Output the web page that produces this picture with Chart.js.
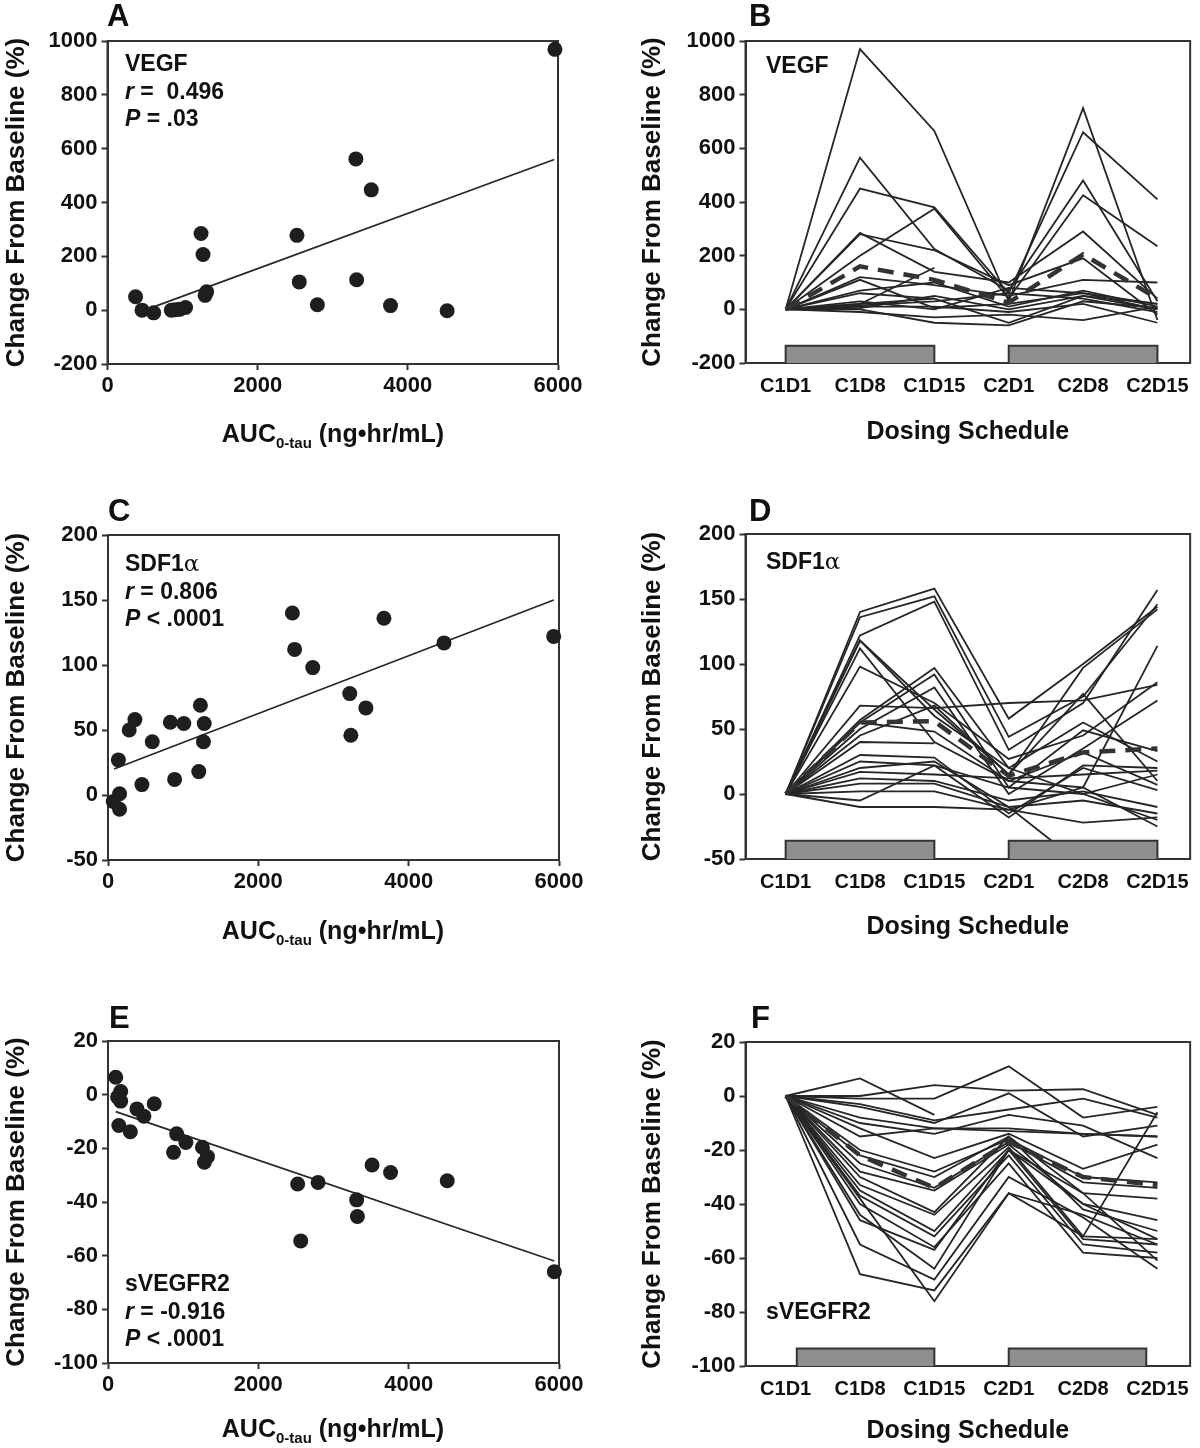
<!DOCTYPE html>
<html>
<head>
<meta charset="utf-8">
<script src="https://cdn.jsdelivr.net/npm/chart.js@4.4.1/dist/chart.umd.min.js"></script>
<style>
  body { margin: 0; background: #fff; }
  #fig { position: relative; width: 1200px; height: 1448px; overflow: hidden;
         font-family: 'Liberation Sans', Arial, sans-serif; font-weight: bold; color: #111; }
  #fig canvas { position: absolute; }
  .t { position: absolute; white-space: pre; line-height: 1; }
  .letter { font-size: 31px; }
  .note { font-size: 23px; line-height: 27.5px; }
  .xt { font-size: 25px; transform: translateX(-50%); }
  .xt sub { font-size: 15px; vertical-align: -6px; line-height: 0; }
  .alpha { font-family: 'DejaVu Serif', serif; font-weight: normal; }
</style>
</head>
<body>
<div id="fig">
  <canvas id="chartA"></canvas>
  <canvas id="chartB"></canvas>
  <canvas id="chartC"></canvas>
  <canvas id="chartD"></canvas>
  <canvas id="chartE"></canvas>
  <canvas id="chartF"></canvas>

  <div class="t letter" style="left:107px;top:0px">A</div>
  <div class="t letter" style="left:749px;top:0px">B</div>
  <div class="t letter" style="left:108px;top:495px">C</div>
  <div class="t letter" style="left:749px;top:495px">D</div>
  <div class="t letter" style="left:109px;top:1002px">E</div>
  <div class="t letter" style="left:751px;top:1002px">F</div>

  <div class="t note" style="left:125px;top:50px">VEGF<br><i>r</i> =  0.496<br><i>P</i> = .03</div>
  <div class="t note" style="left:125px;top:550px">SDF1<span class="alpha">α</span><br><i>r</i> = 0.806<br><i>P</i> &lt; .0001</div>
  <div class="t note" style="left:125px;top:1270px">sVEGFR2<br><i>r</i> = -0.916<br><i>P</i> &lt; .0001</div>
  <div class="t note" style="left:766px;top:52px">VEGF</div>
  <div class="t note" style="left:766px;top:548px">SDF1<span class="alpha">α</span></div>
  <div class="t note" style="left:766px;top:1298px">sVEGFR2</div>

  <div class="t xt" style="left:333px;top:421px">AUC<sub>0-tau</sub> (ng•hr/mL)</div>
  <div class="t xt" style="left:333px;top:918px">AUC<sub>0-tau</sub> (ng•hr/mL)</div>
  <div class="t xt" style="left:333px;top:1416px">AUC<sub>0-tau</sub> (ng•hr/mL)</div>
</div>

<script>
// --------------------------------------------------------------------
// Data
// --------------------------------------------------------------------
const schedule = ['C1D1', 'C1D8', 'C1D15', 'C2D1', 'C2D8', 'C2D15'];
const yTitle = 'Change From Baseline (%)';
const aucTicks = [0, 2000, 4000, 6000];

// A: VEGF vs AUC
const aucA  = [374, 460, 615, 850, 900, 960, 1040, 1246, 1272, 1300, 1320, 2523, 2554, 2795, 3308, 3318, 3513, 3769, 4523, 5959];
const vegfA = [50, 0, -10, 0, 2, 3, 10, 285, 207, 55, 68, 278, 105, 20, 562, 113, 447, 17, -2, 969];
const fitAx = [380, 5950];
const fitAy = [-12, 560];

// C: SDF1a vs AUC
const aucC = [70, 154, 154, 138, 282, 358, 451, 589, 829, 886, 1009, 1208, 1229, 1280, 1270, 2453, 2483, 2724, 3216, 3231, 3431, 3671, 4470, 5929];
const sdfC = [-5, 1, -11, 27, 50, 58, 8, 41, 56, 12, 55, 18, 69, 55, 41, 140, 112, 98, 78, 46, 67, 136, 117, 122];
const fitCx = [80, 5930];
const fitCy = [20, 150];

// E: sVEGFR2 vs AUC
const aucE = [103, 169, 128, 169, 144, 297, 385, 477, 615, 872, 913, 1036, 1256, 1282, 1323, 2523, 2564, 2795, 3308, 3318, 3513, 3759, 4513, 5938];
const svegfr2E = [6.5, 1.2, -0.9, -2.4, -11.5, -13.8, -5.3, -8, -3.4, -21.5, -14.6, -17.8, -19.6, -25.2, -23.1, -33.3, -54.5, -32.7, -39.2, -45.4, -26.2, -29, -32.1, -66];
const fitEx = [103, 5938];
const fitEy = [-6.3, -62];

// B: VEGF per patient over the dosing schedule
const vegfLines = [
    [0, 970, 665, 30, 750, -40],
    [0, 565, 225, 70, 480, 30],
    [0, 450, 380, 60, 660, 410],
    [0, 200, 375, 40, 425, 235],
    [0, 285, 140, 100, 290, 40],
    [0, 280, 220, 90, 190, -20],
    [0, 120, 90, 50, 110, 100],
    [0, 110, 5, 20, 60, 0],
    [0, 70, 100, 10, 70, 10],
    [0, 60, 40, -50, 50, 20],
    [0, 20, 155, null, null, null],
    [0, 15, 30, 60, 40, -10],
    [0, 0, -50, -60, 30, 5],
    [0, -10, -30, -20, -40, 10],
    [0, 10, 10, -10, 20, -50],
    [0, 30, 0, 80, 60, 20],
    [0, 5, 50, 0, 50, 0],
    [0, 20, 40, null, null, null]
];
const vegfMean = [0, 160, 110, 25, 205, 40];
const vegfBarTop = -136;

// D: SDF1a per patient
const sdfLines = [
    [0, 140, 158, 58, 100, 144],
    [0, 136, 152, 44, 75, 146],
    [0, 122, 148, 34, 70, 157],
    [0, 118, 65, 15, 97, 142],
    [0, 112, 40, 10, 5, 114],
    [0, 98, 70, 27, 45, 86],
    [0, 68, 66, 70, 72, 84],
    [0, 57, 97, 20, 55, 25],
    [0, 55, 92, 5, 49, 33],
    [0, 50, 82, 0, 35, 72],
    [0, 45, 68, 15, 77, 10],
    [0, 40, 39, null, null, null],
    [0, 30, 28, -15, 20, 3],
    [0, 25, 22, -18, 22, 20],
    [0, 17, 15, 12, 15, 18],
    [0, 12, 10, -5, 2, -10],
    [0, 8, 8, -10, -5, -15],
    [0, 2, 2, -12, -22, -18],
    [0, -5, 22, 5, 0, -20],
    [0, -10, -10, -12, 5, -25],
    [0, 20, 25, -10, -55, null],
    [0, 55, 48, 10, 32, 7],
    [0, 118, 60, 20, 0, 15]
];
const sdfMean = [0, 55, 56, 14, 32, 35];
const sdfBarTop = -36;

// F: sVEGFR2 per patient
const svegfr2Lines = [
    [0, 6.5, -7, null, null, null],
    [0, 0, 4, 2, 2.5, -7],
    [0, -1, -1, 11, -8, -4],
    [0, -3, -9, -5, -1, -8],
    [0, -4, -10, 1, -15, -11],
    [0, -8, -12, -12, -14, -15],
    [0, -10, -14, -7, -11, -23],
    [0, -12, -23, -14, -27, -18],
    [0, -20, -28, -16, -30, -32],
    [0, -22, -30, -15, -36, -38],
    [0, -25, -34, -17, -32, -34],
    [0, -28, -35, -18, -40, -46],
    [0, -30, -43, -15, -42, -50],
    [0, -33, -44, -19, -52, -53],
    [0, -35, -50, -20, -53, -55],
    [0, -37, -52, -22, -55, -58],
    [0, -40, -56, -25, -58, -60],
    [0, -46, -57, -20, -36, -61],
    [0, -55, -68, -30, -45, -64],
    [0, -66, -72, -36, -52, -6],
    [0, -44, -64, -20, -40, -53],
    [0, -38, -76, -36, -44, -55],
    [0, -15, -12, -13, -14, -15]
];
const svegfr2Mean = [0, -22, -34, -17, -30, -33];
const svegfr2BarTop = -93.5;

// dosing periods (schedule index from/to) for the grey bars
const dosingBD = [[0, 2], [3, 5]];
const dosingF = [[0.15, 2], [3, 4.85]];

// --------------------------------------------------------------------
// Shared styles / helpers
// --------------------------------------------------------------------
Chart.defaults.font.family = "'Liberation Sans', Arial, sans-serif";
Chart.defaults.font.weight = 'bold';
Chart.defaults.color = '#111';

const ink = '#262626';
const axisInk = '#333';

// box around the plot area (top/right edges)
const framePlugin = {
    id: 'frame',
    beforeDatasetsDraw(chart) {
        const a = chart.chartArea, ctx = chart.ctx;
        ctx.save();
        ctx.strokeStyle = axisInk;
        ctx.lineWidth = 2;
        ctx.strokeRect(a.left, a.top, a.right - a.left, a.bottom - a.top);
        ctx.restore();
    }
};

function yAxis(geo, min, max, step) {
    return {
        type: 'linear', position: 'left', min: min, max: max,
        ticks: { stepSize: step, font: { size: 22 }, padding: 4, color: '#111', callback: v => String(v) },
        grid: { drawOnChartArea: false, tickLength: 6, tickWidth: 2, tickColor: axisInk },
        border: { color: axisInk, width: 2 },
        title: { display: true, text: yTitle, color: '#111', font: { size: 26 },
                 padding: { top: geo.titleX - geo.cx - 15.6, bottom: 0 } },
        afterFit: s => { s.width = geo.left - geo.cx; }
    };
}

function aucAxis(geo) {
    return {
        type: 'linear', position: 'bottom', min: 0, max: 6000,
        afterBuildTicks: s => { s.ticks = aucTicks.map(v => ({ value: v })); },
        ticks: { font: { size: 22 }, padding: 3, color: '#111', callback: v => String(v) },
        grid: { drawOnChartArea: false, tickLength: 6, tickWidth: 2, tickColor: axisInk },
        border: { color: axisInk, width: 2 },
        afterFit: s => { s.height = geo.cy + geo.h - geo.bottom; }
    };
}

function scheduleAxis(geo) {
    return {
        type: 'linear', position: 'bottom', min: -0.54, max: 5.44,
        afterBuildTicks: s => { s.ticks = schedule.map((_, i) => ({ value: i })); },
        ticks: { font: { size: 20 }, padding: 11, color: '#111', maxRotation: 0, autoSkip: false,
                 callback: v => schedule[v] },
        grid: { drawOnChartArea: false, drawTicks: false },
        border: { color: axisInk, width: 2 },
        title: { display: true, text: 'Dosing Schedule', color: '#111', font: { size: 25 },
                 padding: { top: 0, bottom: geo.cy + geo.h - geo.titleY - 15 } },
        afterFit: s => { s.height = geo.cy + geo.h - geo.bottom; }
    };
}

function scatterSets(xs, ys, fx, fy) {
    return [
        {
            data: xs.map((x, i) => ({ x: x, y: ys[i] })),
            showLine: false, pointRadius: 7.5, pointBackgroundColor: '#1e1e1e',
            pointBorderWidth: 0, clip: false, order: 1
        },
        {
            data: fx.map((x, i) => ({ x: x, y: fy[i] })),
            borderColor: ink, borderWidth: 1.7, pointRadius: 0, order: 2
        }
    ];
}

function scheduleSets(lines, mean, periods, barTop, yMin) {
    const sets = lines.map(vals => ({
        data: vals.map((v, i) => ({ x: i, y: v })),
        borderColor: ink, borderWidth: 1.8, pointRadius: 0, tension: 0, order: 3
    }));
    sets.push({
        data: mean.map((v, i) => ({ x: i, y: v })),
        borderColor: '#333', borderWidth: 4.5, borderDash: [16, 10], pointRadius: 0, order: 2
    });
    periods.forEach(p => {
        sets.push({
            data: [{ x: p[0], y: yMin }, { x: p[0], y: barTop }, { x: p[1], y: barTop }, { x: p[1], y: yMin }],
            borderColor: axisInk, borderWidth: 2, backgroundColor: '#8e8e8e',
            fill: 'start', pointRadius: 0, tension: 0, order: 0
        });
    });
    return sets;
}

function makePanel(id, geo, scales, datasets) {
    const c = document.getElementById(id);
    c.style.left = geo.cx + 'px';
    c.style.top = geo.cy + 'px';
    c.width = geo.w;
    c.height = geo.h;
    new Chart(c, {
        type: 'line',
        data: { datasets: datasets },
        options: {
            responsive: false,
            animation: false,
            layout: { padding: { top: geo.top - geo.cy, right: geo.cx + geo.w - geo.right, left: 0, bottom: 0 } },
            scales: scales,
            plugins: { legend: { display: false }, tooltip: { enabled: false } }
        },
        plugins: [framePlugin]
    });
}

// --------------------------------------------------------------------
// Panel geometry (canvas box + plot area in page pixels)
// --------------------------------------------------------------------
const geoA = { cx: 0,   cy: 0,   w: 600, h: 470, left: 107.5, right: 558,  top: 41,  bottom: 364,  titleX: 17 };
const geoB = { cx: 600, cy: 0,   w: 600, h: 470, left: 745.5, right: 1194, top: 41,  bottom: 363,  titleX: 653, titleY: 432 };
const geoC = { cx: 0,   cy: 470, w: 600, h: 490, left: 108,   right: 559,  top: 535, bottom: 860,  titleX: 17 };
const geoD = { cx: 600, cy: 470, w: 600, h: 490, left: 745.5, right: 1194, top: 534, bottom: 859,  titleX: 653, titleY: 927 };
const geoE = { cx: 0,   cy: 960, w: 600, h: 488, left: 108,   right: 559,  top: 1041, bottom: 1363, titleX: 17 };
const geoF = { cx: 600, cy: 960, w: 600, h: 488, left: 745.5, right: 1194, top: 1042, bottom: 1366, titleX: 653, titleY: 1431 };

makePanel('chartA', geoA, { x: aucAxis(geoA), y: yAxis(geoA, -200, 1000, 200) },
    scatterSets(aucA, vegfA, fitAx, fitAy));
makePanel('chartC', geoC, { x: aucAxis(geoC), y: yAxis(geoC, -50, 200, 50) },
    scatterSets(aucC, sdfC, fitCx, fitCy));
makePanel('chartE', geoE, { x: aucAxis(geoE), y: yAxis(geoE, -100, 20, 20) },
    scatterSets(aucE, svegfr2E, fitEx, fitEy));

makePanel('chartB', geoB, { x: scheduleAxis(geoB), y: yAxis(geoB, -200, 1000, 200) },
    scheduleSets(vegfLines, vegfMean, dosingBD, vegfBarTop, -200));
makePanel('chartD', geoD, { x: scheduleAxis(geoD), y: yAxis(geoD, -50, 200, 50) },
    scheduleSets(sdfLines, sdfMean, dosingBD, sdfBarTop, -50));
makePanel('chartF', geoF, { x: scheduleAxis(geoF), y: yAxis(geoF, -100, 20, 20) },
    scheduleSets(svegfr2Lines, svegfr2Mean, dosingF, svegfr2BarTop, -100));
</script>
</body>
</html>
